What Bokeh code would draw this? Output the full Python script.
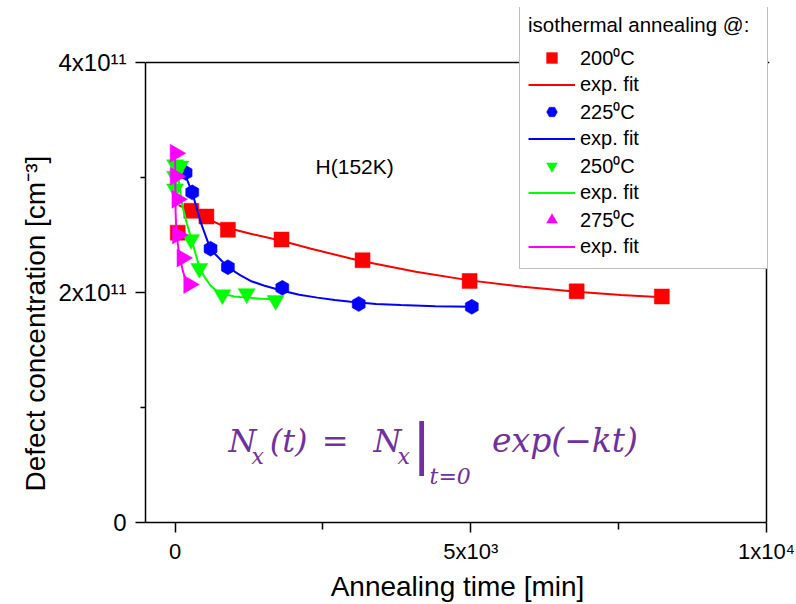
import numpy as np
from bokeh.plotting import figure
from bokeh.models import (Range1d, FixedTicker, Label, Legend, LegendItem,
                          Span, Title)
from bokeh.embed import file_html
from bokeh.resources import INLINE

# ---------------- data (concentration in units of 1e11 cm^-3) ----------------
SCALE = 1e11

t_200 = [45, 275, 530, 893, 1800, 3170, 4980, 6790, 8230]
n_200 = [2.52, 2.71, 2.66, 2.545, 2.46, 2.28, 2.10, 2.01, 1.965]
fit_t_200 = [60, 262, 545, 893, 1277, 1800, 2300, 2970, 3170, 4070, 4980, 5880, 6790, 7540, 8230]
fit_n_200 = [2.76, 2.71, 2.64, 2.56, 2.51, 2.45, 2.38, 2.295, 2.272, 2.18, 2.105, 2.05, 2.006, 1.978, 1.958]

t_225 = [178, 290, 600, 893, 1813, 3105, 5017]
n_225 = [3.04, 2.87, 2.38, 2.22, 2.04, 1.90, 1.875]
fit_t_225 = [60, 93, 206, 291, 431, 600, 893, 1100, 1277, 1500, 1813, 2100, 2406, 2700, 2970, 3400, 3815, 4400, 5017]
fit_n_225 = [3.13, 3.086, 2.976, 2.866, 2.614, 2.375, 2.219, 2.15, 2.10, 2.06, 2.015, 1.98, 1.955, 1.935, 1.92, 1.90, 1.89, 1.88, 1.875]

t_250 = [0, 90, 0, 0, 270, 410, 800, 1210, 1700]
n_250 = [3.11, 3.10, 3.01, 2.90, 2.46, 2.21, 1.98, 1.99, 1.93]
fit_t_250 = [0, 60, 120, 200, 300, 400, 490, 600, 710, 800, 1000, 1220, 1450, 1700]
fit_n_250 = [3.12, 2.98, 2.76, 2.60, 2.42, 2.24, 2.14, 2.06, 2.01, 1.99, 1.965, 1.955, 1.945, 1.94]

t_275 = [5, 5, 35, 45, 120, 235]
n_275 = [3.21, 3.01, 2.81, 2.50, 2.30, 2.07]
fit_t_275 = [0, 4, 9, 20, 37, 60, 93, 130, 178, 262]
fit_n_275 = [3.22, 2.95, 2.70, 2.55, 2.46, 2.37, 2.28, 2.19, 2.11, 2.05]

x_ticks = [0, 5000, 10000]
x_tick_labels = ["0", "5x10\u00b3", "1x10\u2074"]
x_minor = [2500, 7500]
y_ticks = [0, 2, 4]
y_tick_labels = ["0", "2x10\u00b9\u00b9", "4x10\u00b9\u00b9"]
y_minor = [1, 3]

x_title = "Annealing time [min]"
y_title = "Defect concentration [cm\u207b\u00b3]"
note_text = "H(152K)"
legend_title = "isothermal annealing @:"
series_labels = ["200\u2070C", "225\u2070C", "250\u2070C", "275\u2070C"]
fit_label = "exp. fit"
colors = ["#FF0000", "#0000FF", "#00FF00", "#FF00FF"]

X_MIN, X_MAX = -500, 10000
Y_MAX = 4
FONT = "Liberation Sans"

# frame spans x=145..769 and y=7..523 so that the legend fits inside it
px_per_x = 621 / (X_MAX - X_MIN)
px_per_y = 461 / Y_MAX
x_end = X_MAX + 3 / px_per_x
y_end = Y_MAX + 55 / px_per_y

p = figure(width=796, height=604, output_backend="svg", toolbar_location=None,
           x_range=Range1d(X_MIN, x_end), y_range=Range1d(0, y_end * SCALE),
           min_border_left=145, min_border_right=27, min_border_top=7,
           min_border_bottom=81)
p.background_fill_color = "white"
p.border_fill_color = "white"
p.grid.visible = False
p.outline_line_color = None

for ax in (p.xaxis[0], p.yaxis[0]):
    ax.axis_line_width = 1.5
    ax.axis_line_color = "black"
    ax.major_tick_line_width = 1.5
    ax.minor_tick_line_width = 1.5
    ax.major_tick_in = 0
    ax.minor_tick_in = 0
    ax.major_tick_out = 10
    ax.major_label_text_font = FONT
    ax.major_label_text_color = "black"

p.xaxis.ticker = FixedTicker(ticks=x_ticks, minor_ticks=x_minor)
p.xaxis.major_label_overrides = dict(zip(x_ticks, x_tick_labels))
p.xaxis.major_label_text_font_size = "22px"
p.xaxis.major_label_standoff = 6
p.xaxis.minor_tick_out = 7
p.xaxis.bounds = (X_MIN, X_MAX)
p.xaxis.axis_label = x_title
p.xaxis.axis_label_text_font = FONT
p.xaxis.axis_label_text_font_size = "28px"
p.xaxis.axis_label_text_font_style = "normal"
p.xaxis.axis_label_text_color = "black"
p.xaxis.axis_label_standoff = 4

p.yaxis.ticker = FixedTicker(ticks=[v * SCALE for v in y_ticks],
                             minor_ticks=[v * SCALE for v in y_minor])
p.yaxis.major_label_overrides = {v * SCALE: s for v, s in zip(y_ticks, y_tick_labels)}
p.yaxis.major_label_text_font_size = "24px"
p.yaxis.major_label_standoff = 9
p.yaxis.minor_tick_out = 5
p.yaxis.bounds = (0, Y_MAX * SCALE)

ytitle = Title(text=y_title, align="left", offset=31, text_font=FONT,
               text_font_size="28px", text_font_style="normal",
               text_color="black", standoff=10)
p.add_layout(ytitle, "left")

# remaining frame border (top and right)
p.add_layout(Span(location=Y_MAX * SCALE, dimension="width", line_color="black",
                  line_width=1.5))
p.add_layout(Span(location=X_MAX, dimension="height", line_color="black",
                  line_width=1.5))

series = [(t_200, n_200, fit_t_200, fit_n_200, "square", 15, 0.0),
          (t_225, n_225, fit_t_225, fit_n_225, "hex", 15, np.pi / 2),
          (t_250, n_250, fit_t_250, fit_n_250, "inverted_triangle", 17, 0.0),
          (t_275, n_275, fit_t_275, fit_n_275, "triangle", 18, -np.pi / 2)]

items = []
for (t, n, ft, fn, mk, sz, ang), col, lab in zip(series, colors, series_labels):
    rl = p.line(ft, [v * SCALE for v in fn], line_color=col, line_width=2)
    rs = p.scatter(t, [v * SCALE for v in n], marker=mk, size=sz, angle=ang,
                   fill_color=col, line_color=col, line_width=0.5)
    items.append(LegendItem(label=lab, renderers=[rs]))
    items.append(LegendItem(label=fit_label, renderers=[rl]))

legend = Legend(items=items, title=legend_title, location=(374, 253))
legend.title_text_font = FONT
legend.title_text_font_size = "20.5px"
legend.title_text_font_style = "normal"
legend.title_text_color = "black"
legend.title_standoff = 7
legend.label_text_font = FONT
legend.label_text_font_size = "20px"
legend.label_text_color = "black"
legend.glyph_width = 47
legend.glyph_height = 27
legend.label_height = 27
legend.label_width = 179
legend.label_standoff = 5
legend.spacing = 0
legend.padding = 8
legend.margin = 0
legend.border_line_color = "#808080"
legend.border_line_width = 1
legend.background_fill_color = "white"
legend.background_fill_alpha = 1.0
p.add_layout(legend)


def lab(x, y, text, size, dx=0, dy=0, align="left", color="black", font=FONT,
        style="normal"):
    p.add_layout(Label(x=x, y=y, x_units="data", y_units="data", x_offset=dx,
                       y_offset=dy, text=text, text_font=font,
                       text_font_size=f"{size}px", text_color=color,
                       text_font_style=style, text_align=align,
                       text_baseline="alphabetic"))


# annotation
lab(0, 0, note_text, 21, dx=140.5, dy=356.5)

# formula  N_x(t) = N_x|_{t=0} exp(-kt)
PURPLE = "#7030A0"
SERIF = "DejaVu Serif"
fx = [(53.5, 82, "N", 32, "left"), (76.5, 66, "x", 22, "left"),
      (113.5, 82, "(t)", 32, "center"), (160, 82, "=", 32, "center"),
      (198.5, 82, "N", 32, "left"), (222.5, 66, "x", 22, "left"),
      (254.5, 46, "t=0", 22, "left"), (317, 82, "exp(\u2212kt)", 33, "left")]
for dx, dy, s, sz, al in fx:
    lab(0, 0, s, sz, dx=dx, dy=dy, align=al, color=PURPLE, font=SERIF, style="italic")
lab(0, 0, "|", 59, dx=246.5, dy=79, align="center", color=PURPLE, font=FONT)

open("out.html", "w").write(file_html(p, INLINE))
